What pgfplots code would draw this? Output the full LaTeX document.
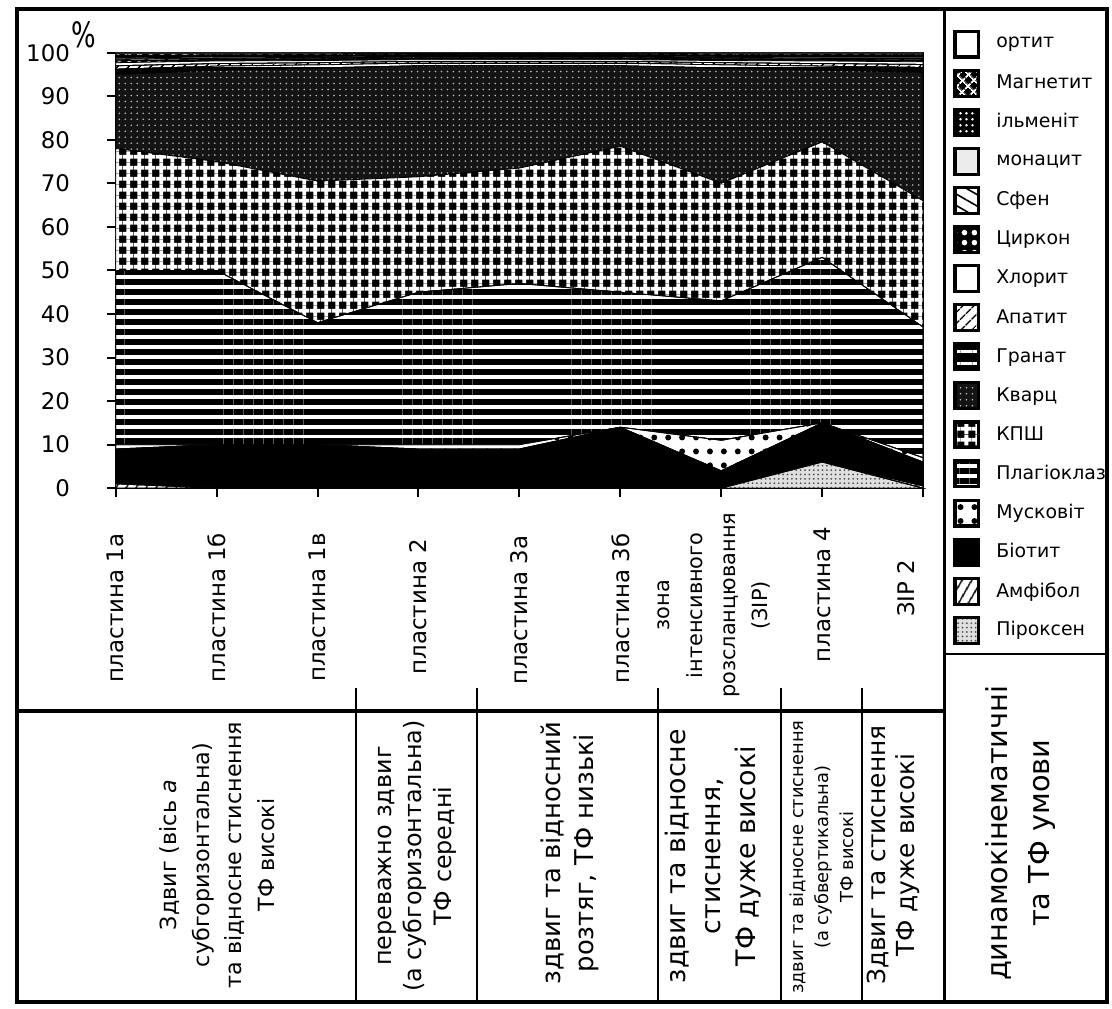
\documentclass[border=0pt]{standalone}
\usepackage{pgfplots}
\pgfplotsset{compat=1.18}
\usepackage{pgfplotstable}
\usetikzlibrary{patterns,patterns.meta}
\usepackage{fontspec}
\setmainfont{DejaVu Sans}
\begin{document}
\pgfplotstableread{
x pir amf bio mus plag kpsh kv gran apat chl zir sfen mon ilm mag ort
0 0 1 8 1 40 28 17 1.2 0.8 0.7 0.4 0.4 0.3 0.5 0.4 0.3
1 0 0 10 0 40 25 21 0.9 0.6 0.6 0.3 0.3 0.3 0.4 0.3 0.3
2 0 0 10 0 28 32.5 26 0.7 0.5 0.5 0.3 0.3 0.2 0.4 0.3 0.3
3 0 0 9 1 35 26.5 25.5 0.6 0.4 0.4 0.3 0.3 0.2 0.3 0.3 0.2
4 0 0 9 1 37 26.5 23.5 0.6 0.4 0.4 0.3 0.3 0.2 0.3 0.3 0.2
5 0 0 14 0 31 33.5 18.5 0.6 0.4 0.4 0.3 0.3 0.2 0.3 0.3 0.2
6 0 0 4 7 32 27 26.5 0.7 0.5 0.5 0.3 0.3 0.2 0.4 0.3 0.3
7 6 0 9 0 38 26.5 16.5 0.9 0.6 0.6 0.3 0.3 0.3 0.4 0.3 0.3
8 0 0.5 5.5 1 30 29 29.5 1.1 0.7 0.6 0.4 0.4 0.3 0.4 0.3 0.3
}\datatable
\tikzset{xlab/.style={rotate=90, font=\fontsize{11.5}{13}\selectfont}}
\begin{tikzpicture}
\useasboundingbox (0,0) rectangle (556pt,507pt);
\begin{axis}[
  at={(55pt,261.5pt)}, anchor=south west,
  scale only axis, width=406pt, height=219pt,
  xmin=0, xmax=8, ymin=0, ymax=100,
  xtick={0,...,8}, xticklabels={},
  ytick={0,10,...,100},
  tick pos=left, tick align=outside, major tick length=4.5pt,
  tick style={black, line width=1pt},
  axis line style={line width=1.2pt},
  clip=false,
  stack plots=y, no markers,
  /pgf/number format/assume math mode=true,
  yticklabel style={font=\fontsize{11.5}{12}\selectfont, xshift=-15pt},
  every axis plot/.append style={draw=black, line width=0.4pt},
  reverse legend,
  legend cell align=left,
  legend image code/.code={\draw[#1, draw=black, line width=1.6pt] (0pt,-6.5pt) rectangle (12pt,6.5pt);},
  legend style={at={(1.0296,1.0746)}, anchor=north west, draw=none, fill=none,
    font=\fontsize{9.5}{11}\selectfont,
    nodes={inner sep=0pt, minimum height=19.65pt},
    column sep=8pt, row sep=0pt},
]
\addplot[fill=gray!25, postaction={pattern={Dots[distance=2.2pt,radius=0.5pt]}, pattern color=black!70}] table[x=x,y=pir]{\datatable} \closedcycle;
\addlegendentry{Піроксен}
\addplot[fill=white, postaction={pattern={Lines[angle=60,distance=4pt,line width=0.9pt]}, pattern color=black}] table[x=x,y=amf]{\datatable} \closedcycle;
\addlegendentry{Амфібол}
\addplot[fill=black] table[x=x,y=bio]{\datatable} \closedcycle;
\addlegendentry{Біотит}
\addplot[fill=white, postaction={pattern={Dots[distance=7pt,radius=1.5pt]}, pattern color=black}] table[x=x,y=mus]{\datatable} \closedcycle;
\addlegendentry{Мусковіт}
\addplot[fill=white, postaction={pattern={Lines[angle=0,distance=5pt,line width=3pt]}, pattern color=black}] table[x=x,y=plag]{\datatable} \closedcycle;
\addlegendentry{Плагіоклаз}
\addplot[fill=black, postaction={pattern={Hatch[angle=0,distance=5.4pt,line width=2pt]}, pattern color=white}] table[x=x,y=kpsh]{\datatable} \closedcycle;
\addlegendentry{КПШ}
\addplot[fill=black!92, postaction={pattern={Dots[distance=3pt,radius=0.45pt]}, pattern color=gray!55}] table[x=x,y=kv]{\datatable} \closedcycle;
\addlegendentry{Кварц}
\addplot[fill=black, postaction={pattern={Lines[angle=0,distance=6pt,line width=1.5pt]}, pattern color=white}] table[x=x,y=gran]{\datatable} \closedcycle;
\addlegendentry{Гранат}
\addplot[fill=white, postaction={pattern={Lines[angle=45,distance=4pt,line width=0.8pt]}, pattern color=black}] table[x=x,y=apat]{\datatable} \closedcycle;
\addlegendentry{Апатит}
\addplot[fill=white] table[x=x,y=chl]{\datatable} \closedcycle;
\addlegendentry{Хлорит}
\addplot[fill=black, postaction={pattern={Dots[distance=5pt,radius=1.4pt]}, pattern color=white}] table[x=x,y=zir]{\datatable} \closedcycle;
\addlegendentry{Циркон}
\addplot[fill=white, postaction={pattern={Lines[angle=-30,distance=5pt,line width=0.8pt]}, pattern color=black}] table[x=x,y=sfen]{\datatable} \closedcycle;
\addlegendentry{Сфен}
\addplot[fill=gray!15] table[x=x,y=mon]{\datatable} \closedcycle;
\addlegendentry{монацит}
\addplot[fill=black, postaction={pattern={Dots[distance=3pt,radius=0.7pt]}, pattern color=white}] table[x=x,y=ilm]{\datatable} \closedcycle;
\addlegendentry{ільменіт}
\addplot[fill=black, postaction={pattern={Hatch[angle=45,distance=4pt,line width=1pt]}, pattern color=white}] table[x=x,y=mag]{\datatable} \closedcycle;
\addlegendentry{Магнетит}
\addplot[fill=white] table[x=x,y=ort]{\datatable} \closedcycle;
\addlegendentry{ортит}
\node[xlab] at (axis cs:0,-27.6) {пластина 1а};
\node[xlab] at (axis cs:1,-27.4) {пластина 1б};
\node[xlab] at (axis cs:2,-27.4) {пластина 1в};
\node[xlab] at (axis cs:3,-27.2) {пластина 2};
\node[xlab] at (axis cs:4,-28.0) {пластина 3а};
\node[xlab] at (axis cs:5,-27.6) {пластина 3б};
\node[xlab, align=center, font=\fontsize{10.5}{16.5}\selectfont] at (axis cs:5.93,-26.9) {зона\\інтенсивного\\розсланцювання\\(ЗІР)};
\node[xlab] at (axis cs:7,-24.4) {пластина 4};
\node[xlab] at (axis cs:7.83,-23) {ЗІР 2};
\node[font=\fontsize{13}{13}\selectfont] at (rel axis cs:-0.04,1.04) {\scalebox{1}[1.35]{\%}};
\end{axis}
\begin{scope}[x=0.5pt,y=0.5pt]
\draw[line width=2pt] (11,6) rectangle (1107,1005);
\draw[line width=1.5pt] (944,6) -- (944,1005);
\draw[line width=1.2pt] (944,356) -- (1107,356);
\draw[line width=2pt] (11,299) -- (944,299);
\foreach \xx in {352,473,655,779,861} \draw[line width=1pt] (\xx,322) -- (\xx,6);
\begin{scope}[every node/.style={rotate=90, align=center}]
\node[font=\fontsize{11.2}{16.5}\selectfont] at (212,154) {Здвиг (вісь \textit{а}\\субгоризонтальна)\\та відносне стиснення\\ТФ високі};
\node[font=\fontsize{12}{15}\selectfont] at (413,153) {переважно здвиг\\(а субгоризонтальна)\\ТФ середні};
\node[font=\fontsize{13}{16.5}\selectfont] at (567,156) {здвиг та відносний\\розтяг, ТФ низькі};
\node[font=\fontsize{13.5}{17.5}\selectfont] at (711,153) {здвиг та відносне\\стиснення,\\ТФ дуже високі};
\node[font=\fontsize{9}{12.5}\selectfont] at (820,152) {здвиг та відносне стиснення\\(а субвертикальна)\\ТФ високі};
\node[font=\fontsize{12.5}{14.5}\selectfont] at (892,154) {Здвиг та стиснення\\ТФ дуже високі};
\node[font=\fontsize{14.5}{21}\selectfont] at (1020,176) {динамокінематичні\\та ТФ умови};
\end{scope}
\end{scope}
\end{tikzpicture}
\end{document}
